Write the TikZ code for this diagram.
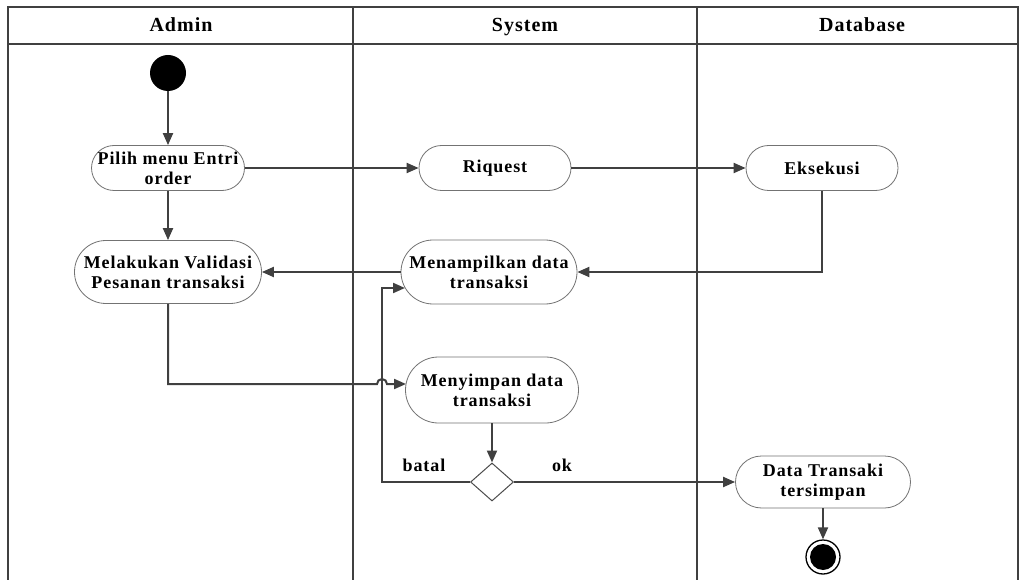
\documentclass[tikz,border=0pt]{standalone}
\usepackage{fontspec}
\setmainfont{Liberation Serif}[LetterSpace=5]
\usetikzlibrary{arrows.meta,shapes.geometric}
\tikzset{
  lane/.style={draw=black!75, line width=1.5pt},
  head/.style={font=\bfseries\fontsize{20}{22}\selectfont, inner sep=0pt, anchor=base},
  act/.style={draw=black!55, line width=0.8pt, fill=white, align=center,
    font=\bfseries\fontsize{18}{20}\selectfont, inner sep=0pt},
  flow/.style={draw=black!75, line width=2pt, -{Triangle[length=12pt,width=10pt]}},
  lbl/.style={font=\bfseries\fontsize{18}{20}\selectfont, inner sep=0pt},
}
\begin{document}
\begin{tikzpicture}[x=1pt,y=-1pt]
\useasboundingbox (0,0) rectangle (1020,580);
\fill[white] (0,0) rectangle (1020,580);

% swimlane frame
\draw[lane] (8,580) -- (8,7) -- (1018,7) -- (1018,580);
\draw[lane] (8,44) -- (1018,44);
\draw[lane] (353,7) -- (353,580);
\draw[lane] (697,7) -- (697,580);
\node[head] (hadmin) at (181,32) {Admin};
\node[head] (hsys) at (525,32) {System};
\node[head] (hdb) at (862,32) {Database};

% activities
\node[circle, fill=black, minimum size=36pt, inner sep=0pt] (start) at (168,73) {};
\node[act, minimum width=153pt, minimum height=45pt, rounded corners=22.5pt] (pilih) at (168,168) {Pilih menu Entri\\order};
\node[act, minimum width=187pt, minimum height=63pt, rounded corners=31.5pt] (valid) at (168,272) {Melakukan Validasi\\Pesanan transaksi};
\node[act, minimum width=152pt, minimum height=45pt, rounded corners=22.5pt] (riq) at (495,168) {Riquest};
\node[act, minimum width=152pt, minimum height=45pt, rounded corners=22.5pt] (eks) at (822,168) {Eksekusi};
\node[act, minimum width=176pt, minimum height=64pt, rounded corners=32pt] (tamp) at (489,272) {Menampilkan data\\transaksi};
\node[act, minimum width=173pt, minimum height=66pt, rounded corners=33pt] (simp) at (492,390) {Menyimpan data\\transaksi};
\node[diamond, draw=black!70, line width=1pt, fill=white, minimum width=43pt, minimum height=38pt, inner sep=0pt] (dec) at (492,482) {};
\node[act, minimum width=175pt, minimum height=52pt, rounded corners=26pt] (saved) at (823,482) {Data Transaki\\tersimpan};
\node[circle, draw=black, line width=1.3pt, minimum size=34pt, inner sep=0pt] (end) at (823,557) {};
\node[circle, fill=black, minimum size=26pt, inner sep=0pt] (endin) at (end) {};

% connector end points
\coordinate (hop) at (377,384);
\coordinate (simpIn) at (406,384);
\coordinate (tampIn) at (405,288);

% flows
\draw[flow] (start) -- (pilih);
\draw[flow] (pilih) -- (valid);
\draw[flow] (pilih) -- (riq);
\draw[flow] (riq) -- (eks);
\draw[flow] (eks.south) |- (tamp.east);
\draw[flow] (tamp.west) -- (valid.east);
\draw[flow] (valid.south) |- (hop) arc[start angle=180, end angle=360, radius=5] -- (simpIn);
\draw[flow] (simp.south) -- (dec.north);
\draw[flow] (dec.west) -- (382,482) -- (382,288) -- (tampIn);
\draw[flow] (dec.east) -- (saved.west);
\draw[flow] (saved.south) -- (end.north);

\node[lbl] (batal) at (424,465) {batal};
\node[lbl] (ok) at (562,465) {ok};
\end{tikzpicture}
\end{document}
